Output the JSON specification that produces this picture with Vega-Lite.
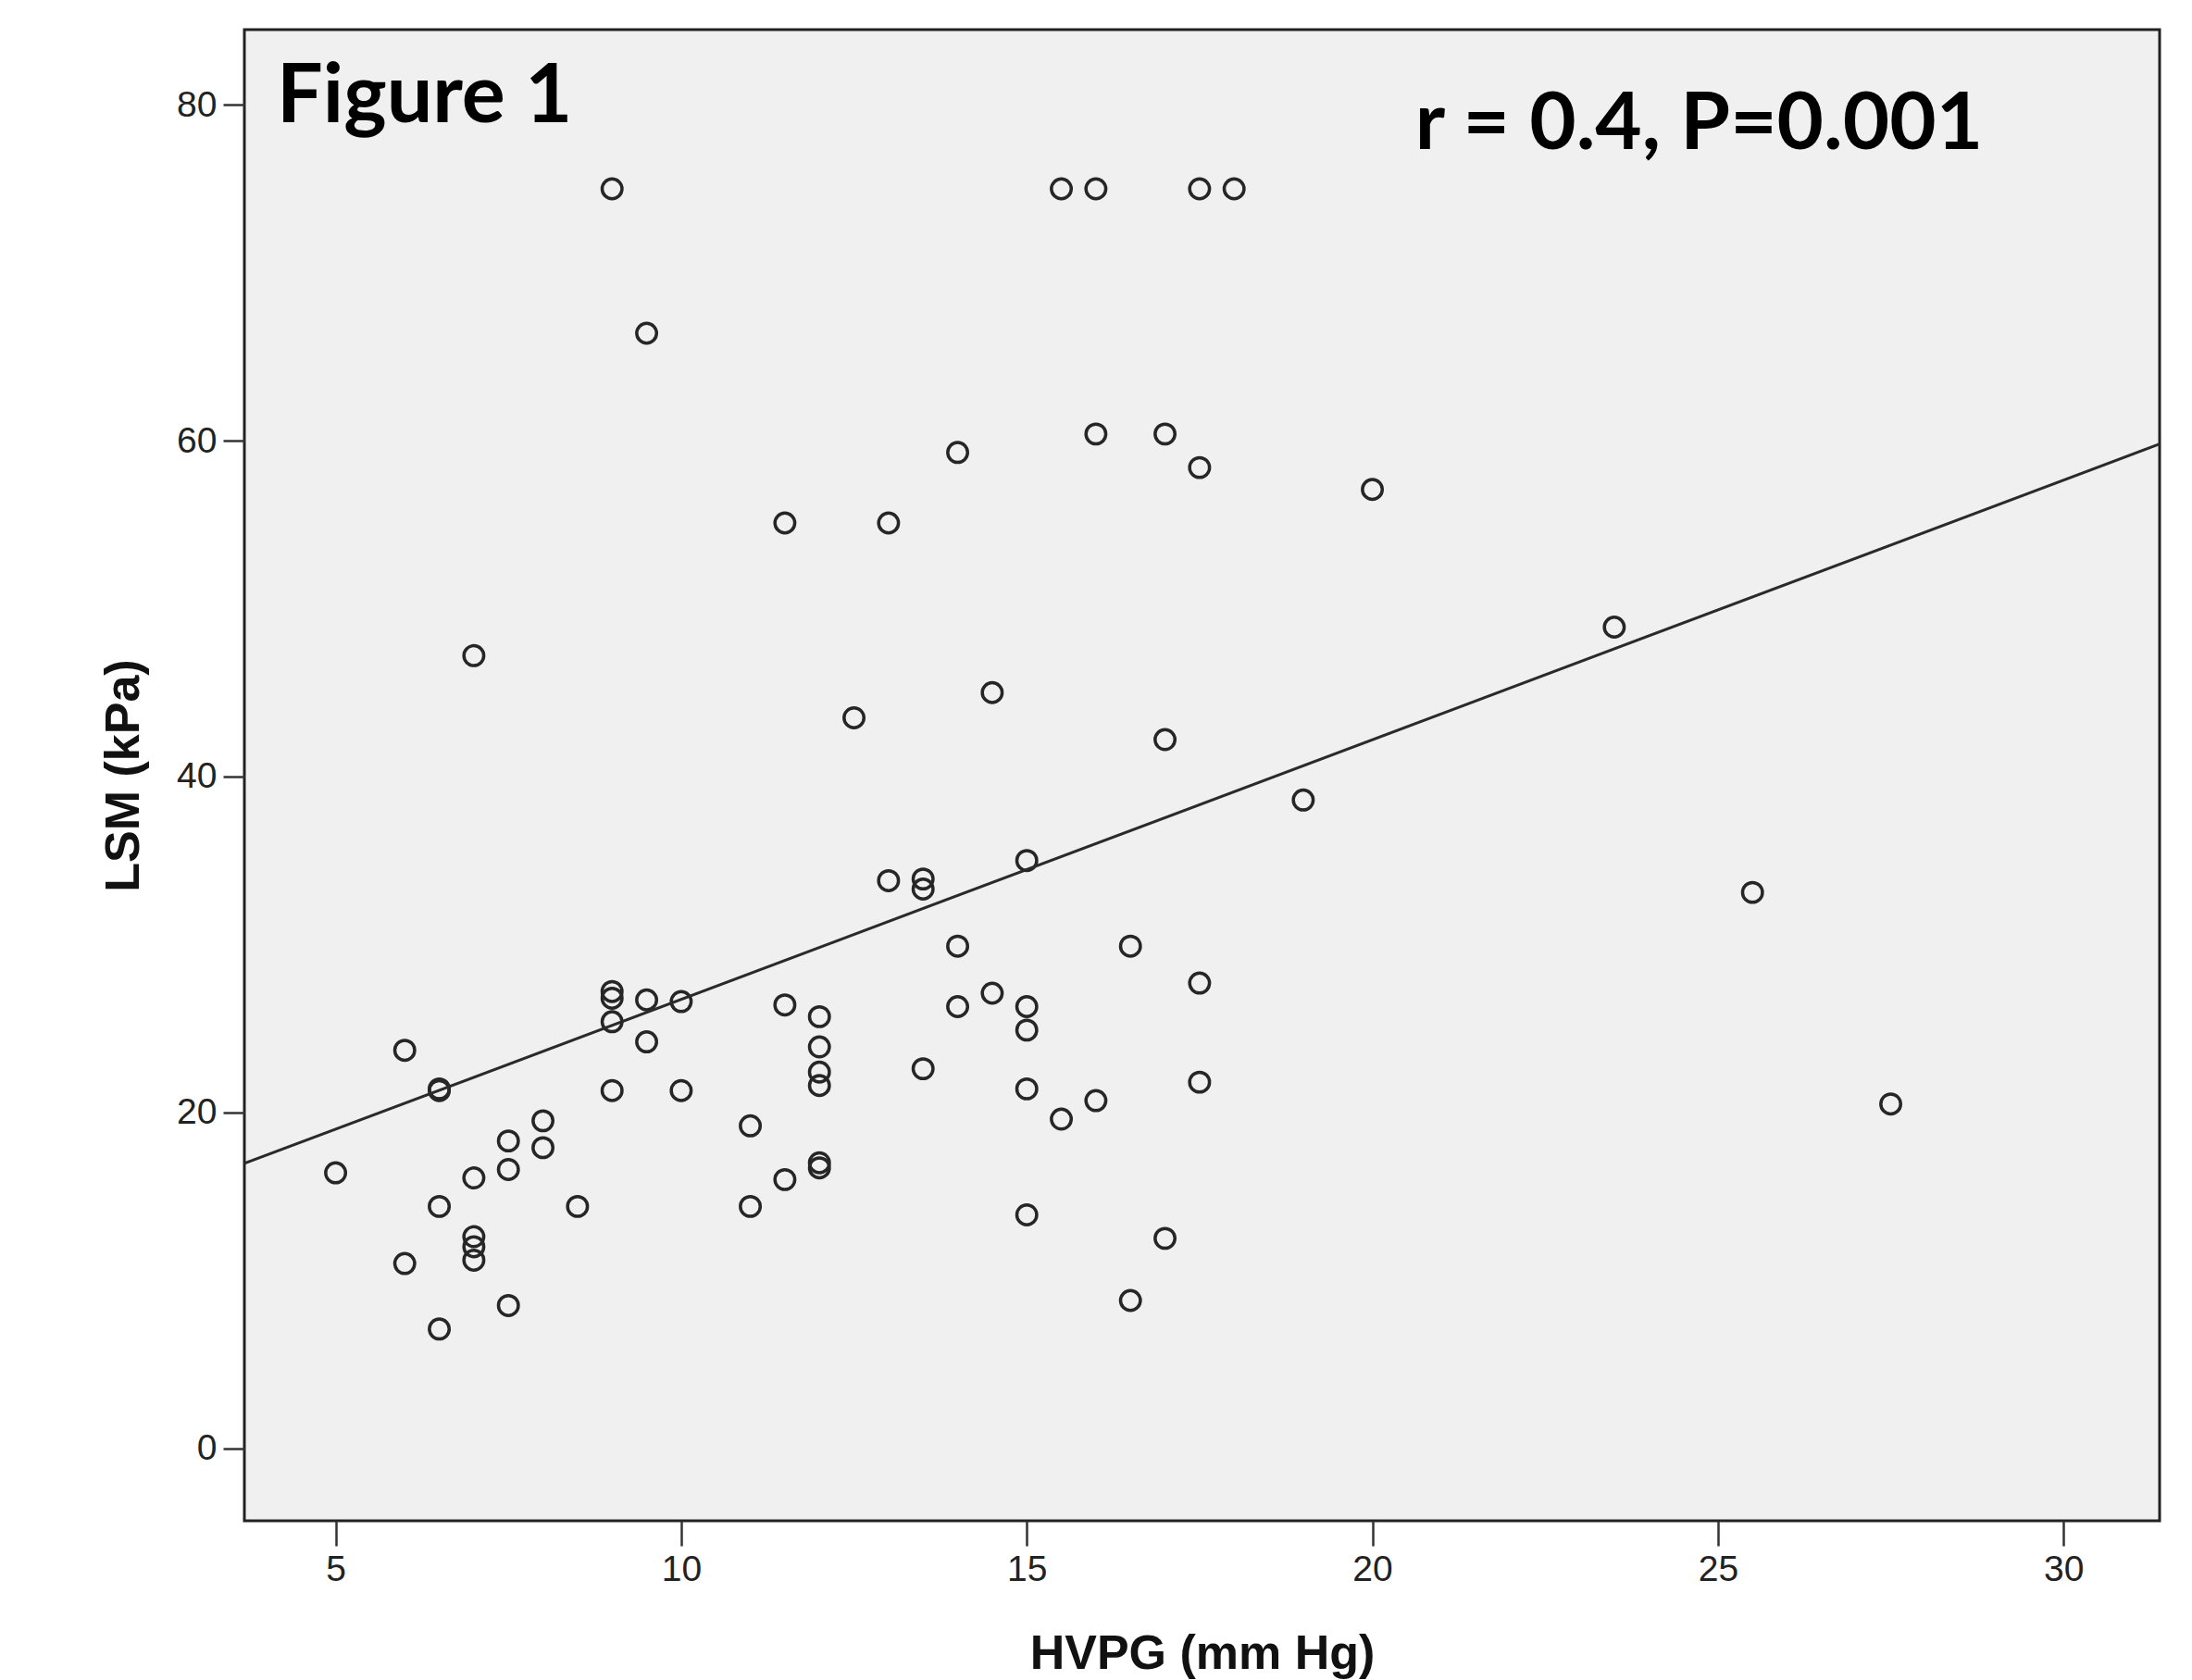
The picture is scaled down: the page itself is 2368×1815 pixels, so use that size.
{
  "$schema": "https://vega.github.io/schema/vega-lite/v6.json",
  "autosize": {"type": "none"},
  "padding": {"left": 264, "top": 32, "right": 35, "bottom": 172},
  "width": 2069,
  "height": 1611,
  "background": "#ffffff",
  "config": {
    "view": {"fill": "#f0f0f0", "stroke": "#222222", "strokeWidth": 3},
    "axis": {
      "grid": false,
      "domain": false,
      "tickColor": "#333333",
      "tickWidth": 2.5,
      "labelFont": "Liberation Sans",
      "labelFontSize": 39,
      "labelColor": "#222222",
      "titleFont": "Liberation Sans",
      "titleFontSize": 52,
      "titleFontWeight": "bold",
      "titleColor": "#111111"
    }
  },
  "datasets": {
    "points": [
      {"HVPG": 5, "LSM": 16.4}, {"HVPG": 6, "LSM": 23.7}, {"HVPG": 6, "LSM": 11.0},
      {"HVPG": 6.5, "LSM": 21.4}, {"HVPG": 6.5, "LSM": 21.3}, {"HVPG": 6.5, "LSM": 14.4}, {"HVPG": 6.5, "LSM": 7.1},
      {"HVPG": 7, "LSM": 47.2}, {"HVPG": 7, "LSM": 16.1}, {"HVPG": 7, "LSM": 12.6}, {"HVPG": 7, "LSM": 12.0}, {"HVPG": 7, "LSM": 11.2},
      {"HVPG": 7.5, "LSM": 18.3}, {"HVPG": 7.5, "LSM": 16.6}, {"HVPG": 7.5, "LSM": 8.5},
      {"HVPG": 8, "LSM": 19.5}, {"HVPG": 8, "LSM": 17.9}, {"HVPG": 8.5, "LSM": 14.4},
      {"HVPG": 9, "LSM": 75}, {"HVPG": 9, "LSM": 27.2}, {"HVPG": 9, "LSM": 26.8}, {"HVPG": 9, "LSM": 25.4}, {"HVPG": 9, "LSM": 21.3},
      {"HVPG": 9.5, "LSM": 66.4}, {"HVPG": 9.5, "LSM": 26.7}, {"HVPG": 9.5, "LSM": 24.2},
      {"HVPG": 10, "LSM": 26.6}, {"HVPG": 10, "LSM": 21.3},
      {"HVPG": 11, "LSM": 19.2}, {"HVPG": 11, "LSM": 14.4},
      {"HVPG": 11.5, "LSM": 55.1}, {"HVPG": 11.5, "LSM": 26.4}, {"HVPG": 11.5, "LSM": 16.0},
      {"HVPG": 12, "LSM": 25.7}, {"HVPG": 12, "LSM": 23.9}, {"HVPG": 12, "LSM": 22.4}, {"HVPG": 12, "LSM": 21.6}, {"HVPG": 12, "LSM": 17.0}, {"HVPG": 12, "LSM": 16.7},
      {"HVPG": 12.5, "LSM": 43.5},
      {"HVPG": 13, "LSM": 55.1}, {"HVPG": 13, "LSM": 33.8},
      {"HVPG": 13.5, "LSM": 33.9}, {"HVPG": 13.5, "LSM": 33.3}, {"HVPG": 13.5, "LSM": 22.6},
      {"HVPG": 14, "LSM": 59.3}, {"HVPG": 14, "LSM": 29.9}, {"HVPG": 14, "LSM": 26.3},
      {"HVPG": 14.5, "LSM": 45.0}, {"HVPG": 14.5, "LSM": 27.1},
      {"HVPG": 15, "LSM": 35.0}, {"HVPG": 15, "LSM": 26.3}, {"HVPG": 15, "LSM": 24.9}, {"HVPG": 15, "LSM": 21.4}, {"HVPG": 15, "LSM": 13.9},
      {"HVPG": 15.5, "LSM": 75}, {"HVPG": 15.5, "LSM": 19.6},
      {"HVPG": 16, "LSM": 75}, {"HVPG": 16, "LSM": 60.4}, {"HVPG": 16, "LSM": 20.7},
      {"HVPG": 16.5, "LSM": 29.9}, {"HVPG": 16.5, "LSM": 8.8},
      {"HVPG": 17, "LSM": 60.4}, {"HVPG": 17, "LSM": 42.2}, {"HVPG": 17, "LSM": 12.5},
      {"HVPG": 17.5, "LSM": 75}, {"HVPG": 17.5, "LSM": 58.4}, {"HVPG": 17.5, "LSM": 27.7}, {"HVPG": 17.5, "LSM": 21.8},
      {"HVPG": 18, "LSM": 75}, {"HVPG": 19, "LSM": 38.6}, {"HVPG": 20, "LSM": 57.1},
      {"HVPG": 23.5, "LSM": 48.9}, {"HVPG": 25.5, "LSM": 33.1}, {"HVPG": 27.5, "LSM": 20.5}
    ],
    "fit": [
      {"HVPG": 3.68, "LSM": 16.96},
      {"HVPG": 31.39, "LSM": 59.8}
    ]
  },
  "layer": [
    {
      "data": {"name": "points"},
      "mark": {"type": "point", "shape": "circle", "filled": false, "size": 460, "strokeWidth": 3.5, "color": "#262626", "opacity": 1},
      "encoding": {
        "x": {
          "field": "HVPG", "type": "quantitative",
          "scale": {"domain": [3.68, 31.39], "nice": false, "zero": false},
          "axis": {"title": "HVPG (mm Hg)", "values": [5, 10, 15, 20, 25, 30], "format": "d", "tickSize": 27, "labelPadding": 6, "titlePadding": 46}
        },
        "y": {
          "field": "LSM", "type": "quantitative",
          "scale": {"domain": [-4.32, 84.48], "nice": false, "zero": false},
          "axis": {"title": "LSM (kPa)", "values": [0, 20, 40, 60, 80], "format": "d", "tickSize": 23, "labelPadding": 7, "titlePadding": 30}
        }
      }
    },
    {
      "data": {"name": "fit"},
      "mark": {"type": "line", "color": "#2a2a2a", "strokeWidth": 3, "clip": true},
      "encoding": {
        "x": {"field": "HVPG", "type": "quantitative"},
        "y": {"field": "LSM", "type": "quantitative"}
      }
    },
    {
      "data": {"values": [{"HVPG": 4.15, "LSM": 78.97, "label": "Figure 1"}]},
      "mark": {"type": "text", "font": "Lato", "fontWeight": "bold", "fontSize": 88, "align": "left", "baseline": "alphabetic", "color": "#000000"},
      "encoding": {
        "x": {"field": "HVPG", "type": "quantitative"},
        "y": {"field": "LSM", "type": "quantitative"},
        "text": {"field": "label"}
      }
    },
    {
      "data": {"values": [{"HVPG": 20.62, "LSM": 77.38, "label": "r = 0.4, P=0.001"}]},
      "mark": {"type": "text", "font": "Lato", "fontWeight": "bold", "fontSize": 87, "align": "left", "baseline": "alphabetic", "color": "#000000"},
      "encoding": {
        "x": {"field": "HVPG", "type": "quantitative"},
        "y": {"field": "LSM", "type": "quantitative"},
        "text": {"field": "label"}
      }
    }
  ]
}
